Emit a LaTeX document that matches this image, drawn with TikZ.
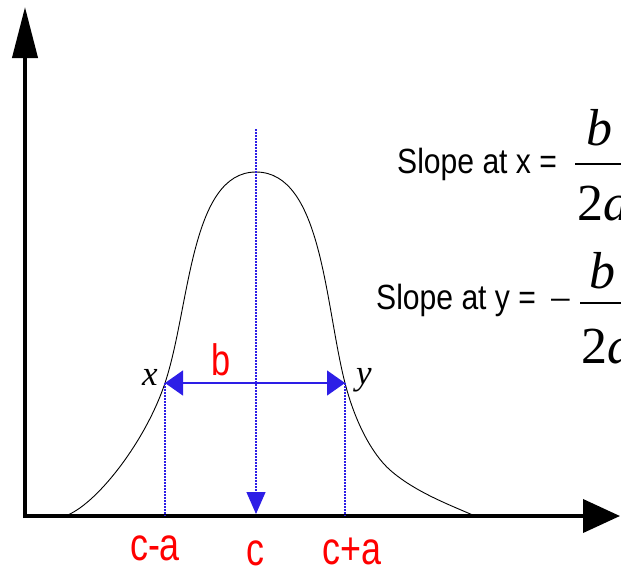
\documentclass[tikz,border=0pt]{standalone}
\usepackage{fontspec}
\setmainfont{Liberation Serif}
\newfontfamily\slopefont[FakeStretch=0.86]{Liberation Sans}
\newfontfamily\labelfont[FakeStretch=0.78]{Liberation Sans}
\usetikzlibrary{arrows.meta}
\definecolor{AzulLinea}{RGB}{45,30,230}
\definecolor{RojoEtiqueta}{RGB}{255,0,0}

\begin{document}
\begin{tikzpicture}[x=1pt,y=-1pt,
  eje/.style={line width=4pt},
  guia/.style={AzulLinea,line width=1.2pt,dash pattern=on 2pt off 1pt},
  etiq/.style={RojoEtiqueta,font=\labelfont\fontsize{46}{46}\selectfont,inner sep=0pt,anchor=base,text depth=0pt},
  punto/.style={font=\fontsize{35}{35}\selectfont\itshape,inner sep=0pt,anchor=base},
  pend/.style={font=\slopefont\fontsize{35}{35}\selectfont,inner sep=0pt,anchor=base west},
  frac/.style={font=\fontsize{52}{52}\selectfont,inner sep=0pt,anchor=base}]
  \useasboundingbox (0,0) rectangle (621,568);
  \clip (0,0) rectangle (621,568);
  % axes
  \coordinate (O) at (25,516);
  \coordinate (ytip) at (25,7);
  \coordinate (xtip) at (620,516);
  \draw[eje,-{Triangle[length=51pt,width=25pt]}] (25,518) -- (ytip);
  \draw[eje,-{Triangle[length=37pt,width=33pt]}] (23,516) -- (xtip);
  % curve
  \draw[line width=0.9pt] (65,516) .. controls (95,506) and (145,443) .. (165,383)
    .. controls (190,308) and (190,172) .. (256,172)
    .. controls (322,172) and (325,305) .. (345,383)
    .. controls (355,422) and (372,454) .. (390,470)
    .. controls (415,492) and (450,505) .. (475,516);
  % centre and width
  \coordinate (ctop) at (256,129);
  \coordinate (c) at (256,514);
  \coordinate (ptx) at (165,383);
  \coordinate (pty) at (345,383);
  \coordinate (ca) at (165,516);
  \coordinate (cpa) at (345,516);
  \draw[guia,-{Triangle[length=22pt,width=19pt]}] (ctop) -- (c);
  \draw[guia] (ptx) -- (ca);
  \draw[guia] (pty) -- (cpa);
  \draw[AzulLinea,line width=1.3pt,{Triangle[length=18pt,width=25pt]}-{Triangle[length=18pt,width=25pt]}] (ptx) -- (pty);
  % labels
  \node[etiq] (lca) at (155,560) {c-a};
  \node[etiq] (lc) at (255,565) {c};
  \node[etiq] (lcpa) at (352,564) {c+a};
  \node[etiq,font=\labelfont\fontsize{44}{44}\selectfont] (lb) at (221,375) {b};
  \node[punto] (lx) at (150,385) {x};
  \node[punto] (ly) at (364,384) {y};
  % slopes
  \node[pend] (sx) at (397,173) {Slope at x =};
  \node[frac] (bx) at (599,145) {\textit{b}};
  \coordinate (barxa) at (575,164);
  \coordinate (barxb) at (630,164);
  \draw[line width=2pt] (barxa) -- (barxb);
  \node[frac,anchor=base west] (dx) at (577,220) {2\textit{a}};
  \node[pend] (sy) at (376,309) {Slope at y =};
  \node[frac,font=\fontsize{40}{40}\selectfont] (my) at (561,313) {−};
  \node[frac] (by) at (602,288) {\textit{b}};
  \coordinate (barya) at (580,303);
  \coordinate (baryb) at (630,303);
  \draw[line width=2pt] (barya) -- (baryb);
  \node[frac,anchor=base west] (dy) at (581,363) {2\textit{a}};
\end{tikzpicture}
\end{document}
